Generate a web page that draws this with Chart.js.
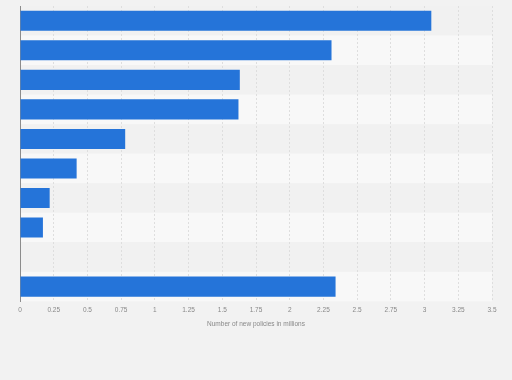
<!DOCTYPE html>
<html>
<head>
<meta charset="utf-8">
<script src="https://cdn.jsdelivr.net/npm/chart.js@4"></script>
<style>
html,body{margin:0;padding:0;background:#f2f2f2;}
#wrap{width:512px;height:380px;position:relative;}
</style>
</head>
<body>
<div id="wrap"><canvas id="c" width="512" height="380"></canvas></div>
<script>
const categories = ["", "", "", "", "", "", "", "", "", ""];
const values = [3.05, 2.31, 1.63, 1.62, 0.78, 0.42, 0.22, 0.17, null, 2.34];
const xTicks = [0, 0.25, 0.5, 0.75, 1, 1.25, 1.5, 1.75, 2, 2.25, 2.5, 2.75, 3, 3.25, 3.5];
const xTitle = "Number of new policies in millions";

const bandPlugin = {
  id: 'bands',
  beforeDraw(chart) {
    const {ctx, chartArea} = chart;
    const y = chart.scales.y;
    const n = categories.length;
    const pitch = (chartArea.bottom - chartArea.top) / n;
    ctx.save();
    for (let i = 0; i < n; i++) {
      const c = y.getPixelForValue(i);
      ctx.fillStyle = (i % 2 === 0) ? '#f1f1f1' : '#f8f8f8';
      ctx.fillRect(chartArea.left, c - pitch / 2, chartArea.right - chartArea.left, pitch);
    }
    ctx.restore();
  }
};

new Chart(document.getElementById('c'), {
  type: 'bar',
  data: {
    labels: categories,
    datasets: [{
      data: values,
      backgroundColor: '#2574d9',
      borderWidth: 0,
      barPercentage: 0.68,
      categoryPercentage: 1.0
    }]
  },
  plugins: [bandPlugin],
  options: {
    indexAxis: 'y',
    responsive: false,
    animation: false,
    devicePixelRatio: 1,
    layout: { padding: { left: 20, right: 20, top: 6, bottom: 52 } },
    plugins: { legend: { display: false }, tooltip: { enabled: false } },
    scales: {
      x: {
        min: 0, max: 3.5,
        afterBuildTicks(scale) { scale.ticks = xTicks.map(v => ({ value: v })); },
        ticks: {
          color: '#888',
          font: { family: 'Liberation Sans, Arial, sans-serif', size: 6.5 },
          padding: 5,
          maxRotation: 0,
          autoSkip: false,
          callback: (v) => String(v)
        },
        grid: {
          color: '#dedede',
          drawTicks: false,
          lineWidth: 1
        },
        border: { display: false, dash: [2, 2] },
        title: {
          display: true,
          text: xTitle,
          color: '#888',
          font: { family: 'Liberation Sans, Arial, sans-serif', size: 6.5 },
          padding: { top: 1, bottom: 0 }
        }
      },
      y: {
        ticks: { display: false },
        grid: { display: false, drawTicks: false },
        border: { display: true, color: '#8c8c8c', width: 1 },
        afterFit(scale) { scale.width = 0; }
      }
    }
  }
});
</script>
</body>
</html>
